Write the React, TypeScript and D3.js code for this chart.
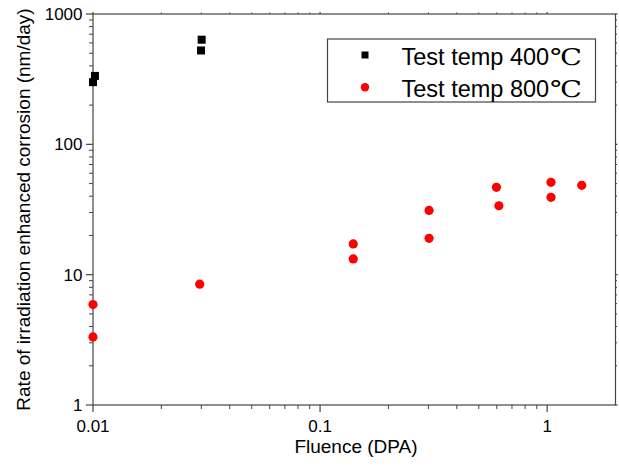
import React from "react";
import * as d3 from "d3";

const fluence400 = [0.0102, 0.01, 0.0301, 0.0299];
const rate400 = [335, 300, 635, 525];

const fluence800 = [0.01, 0.01, 0.0295, 0.14, 0.14, 0.302, 0.302, 0.598, 0.613, 1.04, 1.04, 1.42];
const rate800 = [5.9, 3.33, 8.45, 17.2, 13.2, 31.1, 19.0, 46.8, 33.8, 51.1, 39.2, 48.5];

const xTickLabels = ["0.01", "0.1", "1"];
const yTickLabels = ["1", "10", "100", "1000"];
const legendLabels = ["Test temp 400", "Test temp 800"];

const W = 619;
const H = 470;
const L = 93;
const R = 615.5;
const T = 14;
const B = 405;
const AX = "#444";
const FONT = "'Liberation Sans', Arial, sans-serif";

export default function App() {
  const x = d3.scaleLog().domain([0.01, 2]).range([L, R]);
  const y = d3.scaleLog().domain([1, 1000]).range([B, T]);

  const xMinor: number[] = [];
  for (const dec of [0.01, 0.1, 1]) {
    for (let k = 2; k <= 9; k++) {
      const v = dec * k;
      if (v < 2) xMinor.push(v);
    }
  }
  const yMinor: number[] = [];
  for (const dec of [1, 10, 100]) for (let k = 2; k <= 9; k++) yMinor.push(dec * k);

  const xMajor = xTickLabels.map(Number);
  const yMajor = yTickLabels.map(Number);

  return (
    <svg
      width={W}
      height={H}
      style={{ position: "absolute", left: 0, top: 0, background: "#fff" }}
      fontFamily={FONT}
    >
      <rect x={0} y={0} width={W} height={H} fill="#fff" />
      <rect x={L} y={T} width={R - L} height={B - T} fill="none" stroke={AX} strokeWidth={1.2} />

      {xMajor.map((v) => (
        <line key={"xM" + v} x1={x(v)} x2={x(v)} y1={B} y2={B + 7} stroke={AX} strokeWidth={1.2} />
      ))}
      {xMinor.map((v) => (
        <line key={"xm" + v} x1={x(v)} x2={x(v)} y1={B} y2={B + 4} stroke={AX} strokeWidth={1} />
      ))}
      {xMajor.map((v) => (
        <line key={"xMt" + v} x1={x(v)} x2={x(v)} y1={T} y2={T - 2} stroke={AX} strokeWidth={1.2} />
      ))}
      {xMinor.map((v) => (
        <line key={"xmt" + v} x1={x(v)} x2={x(v)} y1={T} y2={T - 1.5} stroke={AX} strokeWidth={1} />
      ))}
      {yMajor.map((v) => (
        <line key={"yM" + v} x1={L} x2={L - 7} y1={y(v)} y2={y(v)} stroke={AX} strokeWidth={1.2} />
      ))}
      {yMinor.map((v) => (
        <line key={"ym" + v} x1={L} x2={L - 4} y1={y(v)} y2={y(v)} stroke={AX} strokeWidth={1} />
      ))}
      {yMajor.map((v) => (
        <line key={"yMr" + v} x1={R} x2={R + 2} y1={y(v)} y2={y(v)} stroke={AX} strokeWidth={1.2} />
      ))}
      {yMinor.map((v) => (
        <line key={"ymr" + v} x1={R} x2={R + 1.5} y1={y(v)} y2={y(v)} stroke={AX} strokeWidth={1} />
      ))}

      {xTickLabels.map((t) => (
        <text key={"xl" + t} x={x(Number(t))} y={432} textAnchor="middle" fontSize={17} fill="#000">
          {t}
        </text>
      ))}
      {yTickLabels.map((t) => (
        <text
          key={"yl" + t}
          x={82.5}
          y={y(Number(t))}
          dy="0.35em"
          textAnchor="end"
          fontSize={17}
          fill="#000"
        >
          {t}
        </text>
      ))}

      <text x={356} y={453} textAnchor="middle" fontSize={19} fill="#000">
        Fluence (DPA)
      </text>
      <text
        transform={`translate(30,${(T + B) / 2}) rotate(-90)`}
        textAnchor="middle"
        fontSize={19}
        fill="#000"
      >
        Rate of irradiation enhanced corrosion (nm/day)
      </text>

      {fluence800.map((f, i) => (
        <circle key={"c" + i} cx={x(f)} cy={y(rate800[i])} r={4.6} fill="#ff0000" />
      ))}
      {fluence400.map((f, i) => (
        <rect key={"s" + i} x={x(f) - 4} y={y(rate400[i]) - 4} width={8} height={8} fill="#000" />
      ))}

      <rect x={327.5} y={39} width={268} height={63} fill="#fff" stroke={AX} strokeWidth={1.2} />
      <rect x={361.5} y={51.5} width={7} height={7} fill="#000" />
      <circle cx={365} cy={87.3} r={4.2} fill="#ff0000" />
      {legendLabels.map((t, i) => (
        <text key={"lg" + i} x={401.5} y={64.5 + i * 32.3} fontSize={23.5} fill="#000">
          {t}
          <tspan
            fontFamily="'DejaVu Serif', 'Liberation Serif', serif"
            fontSize={23}
            dx={1}
            textLength={32}
            lengthAdjust="spacingAndGlyphs"
          >
            ℃
          </tspan>
        </text>
      ))}
    </svg>
  );
}
